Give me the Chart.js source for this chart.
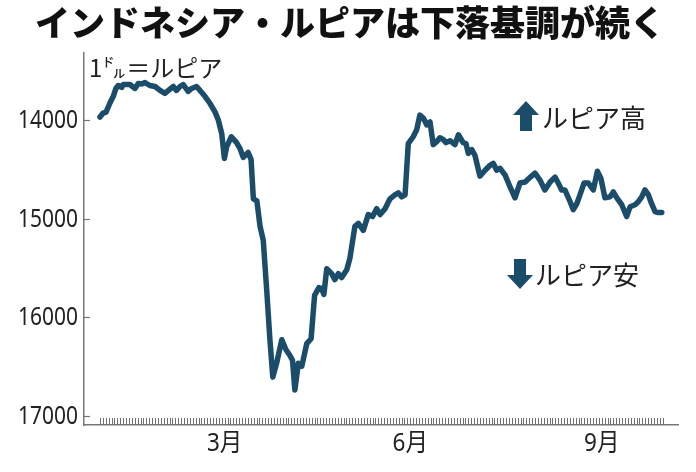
<!DOCTYPE html>
<html>
<head>
<meta charset="utf-8">
<script src="https://cdn.jsdelivr.net/npm/chart.js@4.4.0/dist/chart.umd.min.js"></script>
<style>
  html, body { margin: 0; padding: 0; background: #ffffff; }
  #wrap { width: 696px; height: 472px; position: relative; }
</style>
</head>
<body>
<div id="wrap"><canvas id="c" width="696" height="472"></canvas></div>
<script>
// ---- data (trading-day index, rupiah per dollar) ----
const tradingDay = [0,1.1,2.1,3.4,4.6,5.5,6.3,7.5,8.0,10.3,12.1,13.2,14.4,15.5,17.2,19.0,20.7,22.4,23.6,25.3,26.4,27.6,28.7,30.4,31.6,33.3,34.5,36.2,37.9,39.7,40.8,42.0,42.9,43.7,45.3,47.1,48.3,49.4,51.1,52.1,52.9,54.1,55.2,56.3,57.5,58.6,59.6,60.9,62.7,64.1,65.5,66.4,67.2,68.4,69.6,71.3,72.8,74.0,75.5,76.4,77.2,78.2,79.9,81.0,82.2,83.3,85.1,86.2,87.9,89.1,90.8,92.5,94.0,95.4,96.6,98.3,100.0,101.7,102.9,104.0,105.2,106.3,108.0,109.2,110.3,111.5,112.7,113.8,114.9,116.1,117.2,118.4,119.3,120.7,122.4,123.6,125.2,126.2,127.0,128.2,129.3,131.0,132.8,134.5,135.6,136.8,137.9,139.7,141.4,143.1,144.8,146.6,148.0,150.0,151.7,153.4,155.2,156.9,158.0,159.2,160.3,162.1,163.2,164.4,165.5,166.9,168.4,170.1,171.5,172.7,174.1,175.9,177.0,178.2,179.9,181.6,182.8,184.5,185.6,186.8,187.9,189.1,190.2,191.4,192.5,193.7];
const rupiah = [13970,13930,13920,13830,13760,13680,13650,13670,13640,13640,13680,13630,13635,13620,13650,13660,13700,13730,13700,13660,13700,13660,13640,13710,13680,13660,13700,13760,13830,13920,14000,14140,14390,14270,14170,14230,14290,14380,14330,14400,14800,14820,15080,15220,15730,16230,16610,16470,16230,16330,16390,16440,16740,16470,16500,16270,16220,15780,15700,15710,15770,15510,15560,15620,15560,15600,15520,15400,15080,15050,15120,14960,14980,14900,14960,14900,14800,14760,14740,14780,14760,14240,14170,14100,13950,13980,14050,14020,14250,14220,14180,14200,14230,14210,14250,14150,14230,14240,14340,14300,14360,14570,14510,14460,14440,14510,14490,14560,14680,14790,14640,14630,14590,14540,14610,14710,14630,14580,14640,14710,14710,14830,14910,14850,14760,14640,14640,14710,14520,14590,14790,14780,14730,14790,14860,14980,14880,14860,14830,14780,14710,14760,14850,14930,14940,14940];
const yTicks = [14000, 15000, 16000, 17000];
const monthTickDays = [43, 107, 173];
const monthLabels = ['3月', '6月', '9月'];
const tradingDayCount = 195;

const titleText = 'インドネシア・ルピアは下落基調が続く';
const unitText = '1㌦＝ルピア';
const upText = 'ルピア高';
const downText = 'ルピア安';

const LINE = '#1b4d6b';
const JP = "'Noto Sans CJK JP', sans-serif";
const NUM = "'Noto Sans', 'Noto Sans CJK JP', sans-serif";

const points = tradingDay.map((d, i) => ({ x: d, y: rupiah[i] }));

function arrow(ctx, cx, cy, up) {
  const hw = 13, sw = 6, h = 30, hh = 14;
  const s = up ? 1 : -1;
  const top = cy - s * h / 2, bot = cy + s * h / 2, neck = top + s * hh;
  ctx.beginPath();
  ctx.moveTo(cx, top);
  ctx.lineTo(cx + hw, neck);
  ctx.lineTo(cx + sw, neck);
  ctx.lineTo(cx + sw, bot);
  ctx.lineTo(cx - sw, bot);
  ctx.lineTo(cx - sw, neck);
  ctx.lineTo(cx - hw, neck);
  ctx.closePath();
  ctx.fillStyle = LINE;
  ctx.fill();
}

// condensed text drawn at a scale position
function condensedText(ctx, text, x, y, align, sx) {
  ctx.save();
  ctx.translate(x, y);
  ctx.scale(sx, 1);
  ctx.textAlign = align;
  ctx.fillText(text, 0, 0);
  ctx.restore();
}

const decor = {
  id: 'decor',
  beforeDatasetsDraw(chart) {
    const { ctx, chartArea: a, scales: { x, y } } = chart;
    ctx.save();
    // daily hatch along bottom
    ctx.strokeStyle = '#6f6f6f';
    ctx.lineWidth = 1;
    for (let i = 0; i < tradingDayCount; i++) {
      const px = Math.round(x.getPixelForValue(i)) + 0.5;
      ctx.beginPath();
      ctx.moveTo(px, a.bottom - 7);
      ctx.lineTo(px, a.bottom);
      ctx.stroke();
    }
    // inward y ticks
    ctx.strokeStyle = '#777';
    ctx.lineWidth = 1.2;
    yTicks.forEach(v => {
      const py = Math.round(y.getPixelForValue(v)) + 0.5;
      ctx.beginPath();
      ctx.moveTo(a.left, py);
      ctx.lineTo(a.left + 6, py);
      ctx.stroke();
    });
    // y tick labels (condensed, like the newspaper face)
    ctx.fillStyle = '#222';
    ctx.font = "25px " + NUM;
    ctx.textBaseline = 'middle';
    yTicks.forEach(v => {
      condensedText(ctx, String(v), a.left - 6, y.getPixelForValue(v) + 1, 'right', 0.84);
    });
    // month labels
    ctx.font = "25px " + NUM;
    ctx.textBaseline = 'middle';
    monthTickDays.forEach((d, i) => {
      condensedText(ctx, monthLabels[i], x.getPixelForValue(d), a.bottom + 19, 'center', 0.9);
    });
    ctx.restore();
  },
  afterDraw(chart) {
    const { ctx, chartArea: a } = chart;
    ctx.save();
    ctx.fillStyle = '#111';
    ctx.textBaseline = 'middle';
    ctx.textAlign = 'center';
    ctx.font = "900 35px " + JP;
    ctx.fillText(titleText, 350, 23);
    ctx.fillStyle = '#222';
    ctx.textAlign = 'left';
    ctx.font = "24px " + JP;
    ctx.fillText(unitText, a.left + 5, 68);
    ctx.font = "26px " + JP;
    arrow(ctx, a.left + 442, 116, true);
    ctx.fillStyle = '#222';
    ctx.fillText(upText, a.left + 458, 118);
    arrow(ctx, a.left + 436, 274, false);
    ctx.fillStyle = '#222';
    ctx.fillText(downText, a.left + 451, 275);
    ctx.restore();
  }
};

new Chart(document.getElementById('c'), {
  type: 'line',
  data: {
    datasets: [{
      data: points,
      borderColor: LINE,
      borderWidth: 5.5,
      pointRadius: 0,
      tension: 0,
      borderJoinStyle: 'round',
      borderCapStyle: 'round',
      fill: false
    }]
  },
  options: {
    responsive: false,
    animation: false,
    events: [],
    layout: { padding: { top: 53, right: 18, left: 0, bottom: 0 } },
    plugins: { legend: { display: false }, tooltip: { enabled: false }, title: { display: false } },
    scales: {
      x: {
        type: 'linear',
        min: -5.5,
        max: 199.3,
        afterFit(s) { s.height = 47; },
        afterBuildTicks(s) { s.ticks = monthTickDays.map(v => ({ value: v })); },
        grid: { display: false, drawTicks: false },
        border: { display: true, color: '#777', width: 1.5 },
        ticks: { display: false }
      },
      y: {
        type: 'linear',
        reverse: true,
        min: 13320,
        max: 17096,
        afterFit(s) { s.width = 84; },
        afterBuildTicks(s) { s.ticks = yTicks.map(v => ({ value: v })); },
        grid: { display: false, drawTicks: false },
        border: { display: true, color: '#777', width: 1.5 },
        ticks: { display: false }
      }
    }
  },
  plugins: [decor]
});
</script>
</body>
</html>
